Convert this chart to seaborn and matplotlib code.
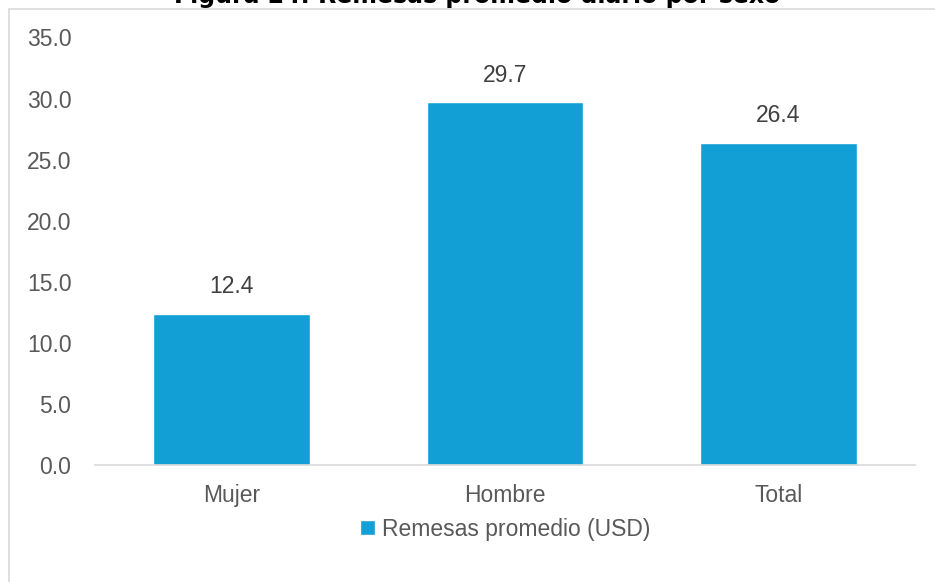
import matplotlib
matplotlib.use('Agg')
import matplotlib.pyplot as plt
import seaborn as sns
import pandas as pd
from matplotlib.patches import Rectangle

# Datos
categorias = ['Mujer', 'Hombre', 'Total']
remesas = [12.4, 29.7, 26.4]
serie = 'Remesas promedio (USD)'
titulo = 'Figura 24: Remesas promedio diario por sexo'
yticks = [0, 5, 10, 15, 20, 25, 30, 35]

df = pd.DataFrame({'Sexo': categorias, 'Valor': remesas})

sns.set_style('white')
plt.rcParams['font.family'] = ['Liberation Sans', 'DejaVu Sans']

W, H = 935, 582
fig = plt.figure(figsize=(W / 100, H / 100), dpi=100)
ax = fig.add_axes([95 / W, 117 / H, 820 / W, (465 - 37.5) / H])

azul = '#119FD6'
fs = 16.5
sns.barplot(data=df, x='Sexo', y='Valor', color=azul, width=0.573,
            label=serie, ax=ax, saturation=1)

ax.set_xlim(-0.5, 2.5)
ax.set_ylim(0, 35)
ax.set_yticks(yticks)
ax.set_yticklabels([f'{v:.1f}' for v in yticks])
ax.set_xlabel('')
ax.set_ylabel('')
ax.tick_params(axis='y', length=0, pad=17, labelsize=fs, labelcolor='#595959')
ax.tick_params(axis='x', length=0, pad=14, labelsize=fs, labelcolor='#595959')

for s in ['top', 'right', 'left']:
    ax.spines[s].set_visible(False)
ax.spines['bottom'].set_color('#D9D9D9')
ax.spines['bottom'].set_linewidth(1.2)

for cont in ax.containers:
    ax.bar_label(cont, fmt='%.1f', padding=11, fontsize=fs, color='#404040')

leg = ax.legend(loc='upper center', bbox_to_anchor=(0.5, -0.075), frameon=False,
                fontsize=fs, handlelength=0.65, handleheight=0.65, handletextpad=0.3)
for t in leg.get_texts():
    t.set_color('#595959')

# Marco del gráfico
fig.patches.append(Rectangle((9 / W, -0.1), 1.2, 1 - 9 / H + 0.1, transform=fig.transFigure,
                             facecolor='none', edgecolor='#D9D9D9', linewidth=1.2))

# Título (recortado en el borde superior, como en el original)
fig.text(477 / W, 1 - 3 / H, titulo, ha='center', va='baseline',
         fontsize=17, fontweight='bold', color='black', family='DejaVu Sans')

fig.savefig('out.png', dpi=100)
